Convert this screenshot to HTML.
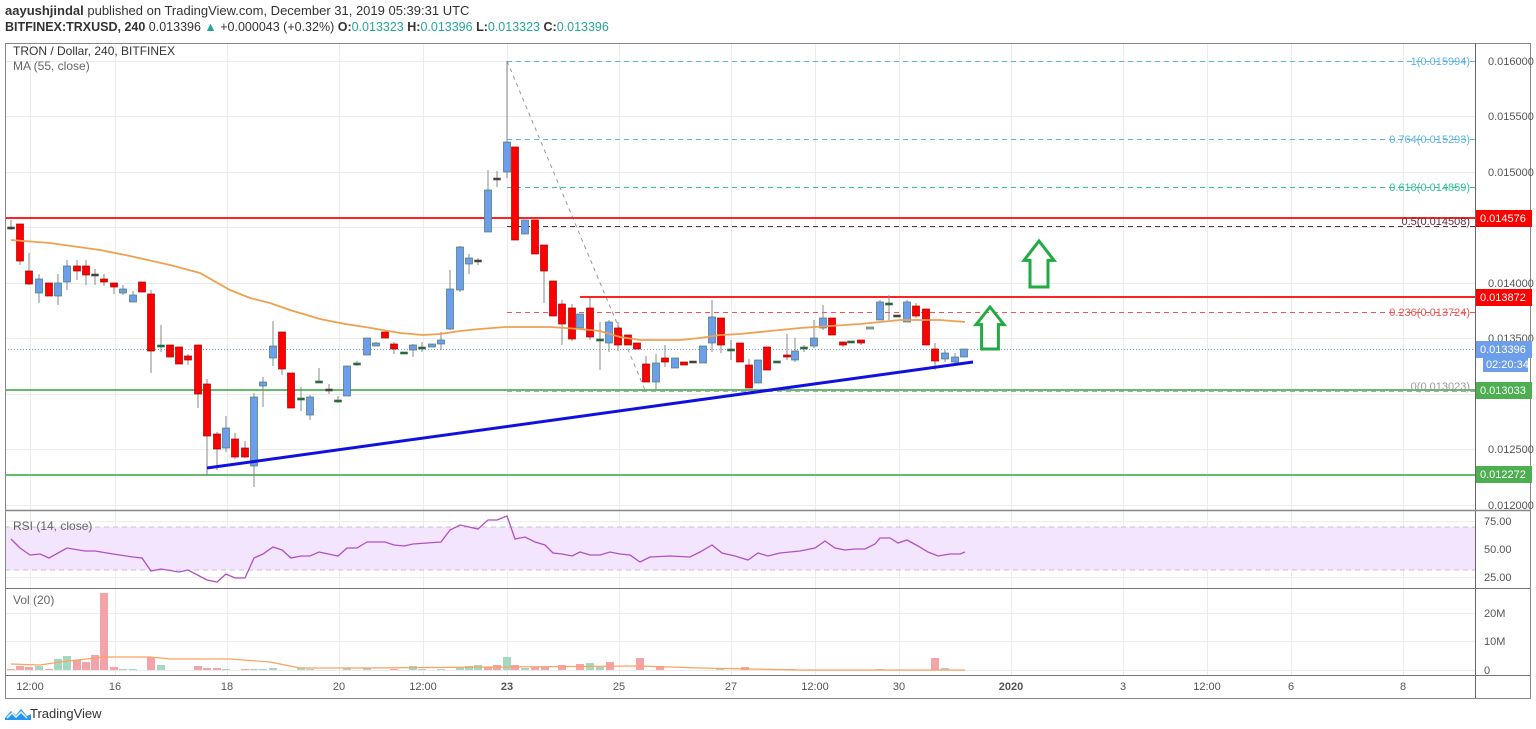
<!DOCTYPE html>
<html><head><meta charset="utf-8"><style>
html,body{margin:0;padding:0;background:#fff;width:1536px;height:729px;overflow:hidden;font-family:"Liberation Sans",sans-serif}
svg{position:absolute;left:0;top:0}
</style></head><body>
<svg id="s" width="1536" height="729" xmlns="http://www.w3.org/2000/svg" font-family="Liberation Sans, sans-serif">
<rect width="1536" height="729" fill="#fff"/>
<text x="5" y="15" font-size="13" fill="#333"><tspan font-weight="bold">aayushjindal</tspan> published on TradingView.com, December 31, 2019 05:39:31 UTC</text>
<text x="5" y="31" font-size="12.5" fill="#333"><tspan font-weight="bold">BITFINEX:TRXUSD, 240</tspan> 0.013396 <tspan fill="#26a69a">▲</tspan> +0.000043 (+0.32%) <tspan font-weight="bold">O:</tspan><tspan fill="#26a69a">0.013323</tspan> <tspan font-weight="bold">H:</tspan><tspan fill="#26a69a">0.013396</tspan> <tspan font-weight="bold">L:</tspan><tspan fill="#26a69a">0.013323</tspan> <tspan font-weight="bold">C:</tspan><tspan fill="#26a69a">0.013396</tspan></text>
<g id="grid"></g>
<rect x="5" y="527" width="1470" height="43" fill="#f3e5fd"/>
<line x1="5" y1="527" x2="1475" y2="527" stroke="#c8c0cc" stroke-dasharray="5,4"/>
<line x1="5" y1="570" x2="1475" y2="570" stroke="#c8c0cc" stroke-dasharray="5,4"/>
<g id="main"></g>
<text x="13" y="55" font-size="12" fill="#333">TRON / Dollar, 240, BITFINEX</text>
<text x="13" y="70" font-size="12" fill="#666">MA (55, close)</text>
<text x="13" y="530" font-size="12" fill="#666">RSI (14, close)</text>
<text x="13" y="604" font-size="12" fill="#666">Vol (20)</text>
<g font-size="11" text-anchor="end">
<text x="1470" y="65" fill="#5cb3e6">1(0.015994)</text>
<text x="1470" y="143" fill="#5cb3e6">0.764(0.015293)</text>
<text x="1470" y="191" fill="#33c19a">0.618(0.014859)</text>
<text x="1470" y="225" fill="#6a2a3a">0.5(0.014508)</text>
<text x="1470" y="316" fill="#ee5555">0.236(0.013724)</text>
<text x="1470" y="390" fill="#999">0(0.013023)</text>
</g>
<!-- frame -->
<rect x="5.5" y="43.5" width="1525" height="655" fill="none" stroke="#888"/>
<line x1="1475.5" y1="43" x2="1475.5" y2="698" stroke="#666"/>
<line x1="5" y1="510.5" x2="1530" y2="510.5" stroke="#888" stroke-width="1.5"/>
<line x1="5" y1="588.5" x2="1530" y2="588.5" stroke="#777"/>
<line x1="5" y1="675.5" x2="1530" y2="675.5" stroke="#777"/>
<g font-size="11" fill="#555" id="axis">
<text x="1488" y="65">0.016000</text><text x="1488" y="120">0.015500</text><text x="1488" y="176">0.015000</text>
<text x="1488" y="287">0.014000</text><text x="1488" y="342">0.013500</text><text x="1488" y="453">0.012500</text><text x="1488" y="509">0.012000</text>
<text x="1484" y="525">75.00</text><text x="1484" y="553">50.00</text><text x="1484" y="581">25.00</text>
<text x="1484" y="617">20M</text><text x="1484" y="645">10M</text><text x="1484" y="674">0</text>
</g>
<g font-size="11" fill="#fff">
<rect x="1476" y="210" width="56" height="17" fill="#f00"/><text x="1480" y="222">0.014576</text>
<rect x="1476" y="289" width="56" height="17" fill="#f00"/><text x="1480" y="301">0.013872</text>
<rect x="1476" y="341" width="56" height="17" fill="#6d9eeb"/><text x="1480" y="353">0.013396</text>
<rect x="1483" y="357" width="45" height="15" fill="#6d9eeb"/><text x="1486" y="368">02:20:34</text>
<rect x="1476" y="382" width="56" height="17" fill="#4caf50"/><text x="1480" y="394">0.013033</text>
<rect x="1476" y="466" width="56" height="17" fill="#4caf50"/><text x="1480" y="478">0.012272</text>
</g>
<g font-size="11" fill="#555" text-anchor="middle">
<text x="30" y="690">12:00</text><text x="115" y="690">16</text><text x="227" y="690">18</text><text x="339" y="690">20</text>
<text x="423" y="690">12:00</text><text x="507" y="690" font-weight="bold">23</text><text x="619" y="690">25</text><text x="731" y="690">27</text>
<text x="815" y="690">12:00</text><text x="899" y="690">30</text><text x="1011" y="690" font-weight="bold">2020</text><text x="1123" y="690">3</text>
<text x="1207" y="690">12:00</text><text x="1291" y="690">6</text><text x="1403" y="690">8</text>
</g>
<g transform="translate(5,706)">
<path d="M0 12 L6 5 L11 9 L16 3 L22 10 L26 8 L26 14 L0 14Z" fill="#2196f3"/>
<path d="M2 12 L7 7 L11 11 L16 6 L22 12" stroke="#fff" stroke-width="1.5" fill="none"/>
</g>
<text x="30" y="718" font-size="13" fill="#333">TradingView</text>
</svg>
<script>
const NS="http://www.w3.org/2000/svg";
function el(p,t,a){const e=document.createElementNS(NS,t);for(const k in a)e.setAttribute(k,a[k]);p.appendChild(e);return e;}
const G=document.getElementById('grid'),M=document.getElementById('main');
[30,115,227,339,423,507,619,731,815,899,1011,1123,1207,1291,1403].forEach(x=>el(G,'line',{x1:x+.5,y1:43,x2:x+.5,y2:675,stroke:'#ececec'}));
[61,116,172,227,283,338,394,449,505,521,549,577,613,641,670].forEach(y=>el(G,'line',{x1:5,y1:y+.5,x2:1475,y2:y+.5,stroke:'#ececec'}));
// fib lines
[[61,'#5cb3e6'],[139,'#5cb3e6'],[187,'#33c19a'],[226,'#6a2a3a'],[312,'#ee5555'],[391,'#aaa']].forEach(f=>el(M,'line',{x1:507,y1:f[0]+.5,x2:1475,y2:f[0]+.5,stroke:f[1],'stroke-dasharray':'5,4'}));
el(M,'line',{x1:507,y1:61,x2:645,y2:390,stroke:'#999','stroke-dasharray':'4,4'});
el(M,'line',{x1:5,y1:218,x2:1475,y2:218,stroke:'#f22','stroke-width':2});
el(M,'line',{x1:580,y1:297,x2:1475,y2:297,stroke:'#f22','stroke-width':2});
el(M,'line',{x1:5,y1:390,x2:1475,y2:390,stroke:'#66bb6a','stroke-width':2});
el(M,'line',{x1:5,y1:475,x2:1475,y2:475,stroke:'#66bb6a','stroke-width':2});
el(M,'line',{x1:5,y1:349.5,x2:1475,y2:349.5,stroke:'#6d9eeb','stroke-dasharray':'1,2'});
// candles: x,color(r/b/d/g/k),top,bot,wt,wb
const C=[[11,'k',227,229,220,230],[20,'r',224,261,224,265],[29,'r',271,284,253,285],[39,'b',279,293,274,303],[49,'r',283,296,283,296],[58,'b',283,296,274,305],[67,'b',266,282,260,290],[77,'r',266,271,260,280],[86,'r',266,275,260,285],[95,'k',274,276,269,285],[104,'r',279,282,274,286],[114,'r',283,287,283,294],[123,'b',289,293,285,295],[133,'b',295,302,291,302],[142,'r',282,292,282,292],[151,'r',294,351,290,373],[161,'d',345,347,325,352],[170,'r',345,357,345,357],[179,'r',347,364,347,364],[188,'r',356,360,354,365],[198,'r',345,394,345,408],[207,'r',384,436,379,476],[217,'r',434,449,432,470],[226,'b',428,448,416,452],[235,'r',439,457,433,459],[245,'r',448,457,441,458],[254,'b',397,466,393,487],[263,'b',382,386,377,407],[273,'b',346,358,321,366],[282,'r',332,369,332,375],[291,'r',373,408,373,408],[301,'d',398,400,387,411],[310,'b',397,415,395,420],[319,'d',381,383,368,383],[329,'k',389,391,384,394],[338,'d',400,402,396,403],[347,'b',366,396,366,396],[357,'d',363,365,361,366],[367,'b',338,355,338,355],[376,'b',343,346,342,346],[385,'r',332,338,332,338],[394,'r',344,349,342,354],[404,'d',352,354,352,354],[413,'b',345,350,344,357],[422,'d',347,349,342,352],[432,'b',344,347,344,347],[441,'b',340,344,332,350],[450,'b',289,329,270,330],[460,'b',247,290,246,292],[469,'b',258,264,254,274],[478,'k',260,262,258,265],[488,'b',190,232,170,232],[497,'k',178,180,171,187],[507,'b',142,172,61,178],[515,'r',147,240,147,240],[525,'b',220,234,220,234],[535,'r',220,254,220,254],[544,'r',245,271,245,303],[553,'r',281,316,281,316],[562,'r',304,324,300,345],[572,'r',308,339,304,341],[580,'b',314,328,314,328],[590,'r',308,337,298,340],[600,'d',339,341,322,370],[609,'b',322,343,320,352],[618,'r',328,345,322,351],[628,'r',335,345,335,345],[637,'r',343,349,343,349],[646,'r',364,382,356,382],[656,'b',363,382,354,390],[665,'r',358,362,345,367],[675,'b',358,368,358,368],[684,'r',362,365,362,365],[693,'k',361,363,361,363],[703,'b',346,363,346,363],[712,'b',317,343,300,352],[721,'r',318,345,318,353],[731,'d',349,351,340,360],[740,'r',343,362,343,362],[749,'r',365,388,359,388],[758,'b',360,383,360,383],[767,'r',347,370,347,370],[777,'d',361,363,361,363],[787,'r',355,357,334,360],[795,'b',351,360,338,362],[804,'d',347,349,345,352],[814,'b',338,346,320,348],[823,'b',318,328,305,330],[832,'r',318,335,318,335],[843,'r',342,345,342,347],[851,'d',341,343,341,343],[861,'r',340,343,340,345],[870,'g',327,329,327,329],[880,'b',302,320,300,320],[889,'d',303,305,295,320],[897,'k',315,317,315,317],[907,'b',302,322,300,322],[916,'r',306,316,303,318],[926,'r',309,345,309,345],[935,'r',349,361,343,370],[945,'b',353,359,350,362],[955,'b',357,362,353,364],[964,'b',349,357,349,357]];
const col={r:'#ff0000',b:'#6d9eeb',d:'#1b5e20',k:'#5d1a1a',g:'#8fbc8f'};
C.forEach(c=>{const[x,t,a,b,wt,wb]=c;
el(M,'line',{x1:x,y1:wt,x2:x,y2:wb,stroke:'#888'});
const h=Math.max(2,b-a);el(M,'rect',{x:x-3.5,y:a,width:7,height:h,fill:col[t],stroke:(t=='r'?'#a00':'#4a7a6a'),'stroke-width':0.7});});
const ma=[[11,240],[50,243],[100,250],[130,256],[170,265],[200,273],[230,290],[250,298],[270,303],[290,310],[320,319],[345,324],[365,327],[400,333],[423,335],[440,334],[460,331],[480,329],[505,327],[520,327],[550,327],[580,329],[600,331],[620,337],[640,340],[680,340],[700,338],[720,335],[740,334],[770,331],[800,328],[830,326],[860,324],[900,320],[940,320],[965,322]];
el(M,'polyline',{points:ma.map(p=>p.join(',')).join(' '),fill:'none',stroke:'#f0a050','stroke-width':1.8});
el(M,'line',{x1:207,y1:468,x2:973,y2:362,stroke:'#1010e0','stroke-width':3});
// arrows
function arrow(x,y,w,h){const m=x+w/2,hw=w*0.3,hh=h*0.42;
el(M,'path',{d:`M${m} ${y} L${x+w} ${y+hh} L${m+hw} ${y+hh} L${m+hw} ${y+h} L${m-hw} ${y+h} L${m-hw} ${y+hh} L${x} ${y+hh}Z`,fill:'none',stroke:'#22aa44','stroke-width':3});}
arrow(1024,241,30,46);arrow(976,307,28,42);
const rsi=[[11,539],[20,548],[30,555],[40,554],[49,558],[67,548],[85,551],[95,551],[113,554],[133,557],[142,558],[151,571],[161,569],[179,572],[188,570],[207,580],[217,582],[226,574],[235,578],[245,578],[254,558],[263,554],[273,547],[282,550],[291,558],[301,556],[310,556],[319,552],[338,556],[347,548],[357,548],[367,542],[385,542],[394,545],[404,546],[413,544],[441,542],[450,530],[460,525],[478,529],[488,520],[497,520],[507,516],[515,539],[525,537],[535,542],[545,545],[553,553],[562,554],[572,556],[580,552],[590,555],[600,555],[610,552],[620,554],[630,555],[640,562],[650,557],[670,556],[690,557],[700,552],[712,545],[722,553],[735,556],[748,560],[758,553],[768,556],[780,553],[800,551],[815,548],[825,541],[835,548],[845,550],[855,549],[865,549],[875,544],[880,538],[890,538],[898,543],[907,540],[918,546],[928,552],[938,556],[950,554],[960,554],[965,552]];
el(M,'polyline',{points:rsi.map(p=>p.join(',')).join(' '),fill:'none',stroke:'#b050c8','stroke-width':1.3});
const vol=[[11,'r',1],[20,'r',4],[29,'r',3],[39,'g',4],[49,'r',1],[58,'g',11],[67,'g',14],[77,'r',10],[86,'r',8],[95,'r',15],[104,'r',77],[114,'r',3],[123,'g',1],[133,'g',1],[151,'r',13],[161,'g',5],[198,'r',4],[207,'r',2],[217,'r',2],[226,'g',1],[245,'r',1],[254,'g',1],[263,'g',1],[273,'g',2],[301,'g',2],[310,'g',1],[347,'g',2],[367,'g',2],[394,'r',1],[413,'g',4],[422,'g',1],[441,'g',1],[460,'g',2],[469,'g',4],[478,'g',5],[488,'r',3],[497,'r',5],[507,'g',13],[515,'r',5],[525,'g',2],[535,'r',3],[545,'r',3],[562,'r',5],[580,'r',6],[590,'g',7],[600,'g',3],[610,'r',8],[640,'r',12],[660,'r',4],[720,'g',1],[745,'r',3],[790,'r',1],[880,'g',1],[935,'r',12],[945,'g',2]];
vol.forEach(v=>el(M,'rect',{x:v[0]-4,y:670-v[2],width:8,height:v[2],fill:v[1]=='r'?'#f4a3a8':'#a5d8c0'}));
const vma=[[11,664],[40,665],[60,662],[95,658],[104,657],[150,657],[170,659],[230,659],[270,662],[300,668],[360,668],[500,667],[640,666],[700,668],[800,670],[965,670]];
el(M,'polyline',{points:vma.map(p=>p.join(',')).join(' '),fill:'none',stroke:'#ffa060','stroke-width':1.2});
</script>
</body></html>
